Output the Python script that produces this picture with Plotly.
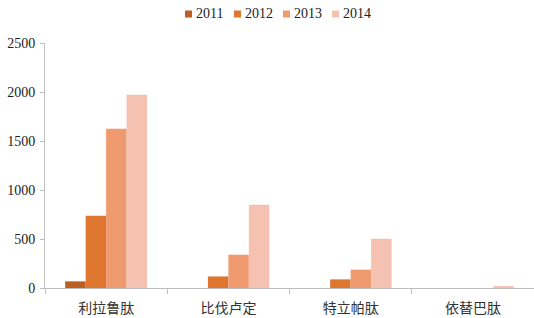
import plotly.graph_objects as go

categories = ["利拉鲁肽", "比伐卢定", "特立帕肽", "依替巴肽"]
years = ["2011", "2012", "2013", "2014"]
v2011 = [68, 0, 0, 0]
v2012 = [738, 118, 88, 0]
v2013 = [1625, 340, 187, 0]
v2014 = [1972, 850, 503, 16]
series = [v2011, v2012, v2013, v2014]
colors = ["#BC5F20", "#DF7630", "#F09A6F", "#F5C2B1"]

W, H = 534, 318
ML, MR, MT, MB = 45, 0, 43, 30
PW, PH = W - ML - MR, H - MT - MB

def px_x(x):
    return (x - ML) / PW

def px_y(y):
    return (H - MB - y) / PH

fig = go.Figure()
for y, vals, c in zip(years, series, colors):
    fig.add_trace(go.Bar(name=y, x=categories, y=vals, showlegend=False,
                         marker=dict(color=c, line=dict(width=0))))

# custom legend (small squares close to labels)
leg_x0 = 185
leg_step = 49
for i, (y, c) in enumerate(zip(years, colors)):
    x0 = leg_x0 + i * leg_step
    fig.add_shape(type="rect", xref="paper", yref="paper",
                  x0=px_x(x0), x1=px_x(x0 + 7), y0=px_y(17.5), y1=px_y(10.5),
                  fillcolor=c, line=dict(width=0))
    fig.add_annotation(xref="paper", yref="paper", x=px_x(x0 + 9), y=px_y(14),
                       text=y, showarrow=False, xanchor="left", yanchor="middle",
                       font=dict(family="Liberation Serif", size=14, color="#222"))

fig.update_layout(
    width=W, height=H,
    margin=dict(l=ML, r=MR, t=MT, b=MB),
    barmode="group", bargap=0.33, bargroupgap=0,
    plot_bgcolor="white", paper_bgcolor="white",
    showlegend=False,
    font=dict(family="Liberation Serif", size=14, color="#222"),
)
fig.update_yaxes(range=[0, 2500], dtick=500, showgrid=False, showline=True, linecolor="#BFBFBF",
                 linewidth=1, ticks="outside", ticklen=4, tickcolor="#BFBFBF", zeroline=False,
                 ticklabelstandoff=2,
                 tickfont=dict(family="Liberation Serif", size=14, color="#222"))
fig.update_xaxes(showline=True, linecolor="#BFBFBF", linewidth=1, ticks="outside", ticklen=5,
                 tickcolor="#BFBFBF", tickson="boundaries", ticklabelstandoff=7,
                 tickfont=dict(family="Noto Sans CJK SC", size=14, color="#333"))
fig.write_html("out.html")
